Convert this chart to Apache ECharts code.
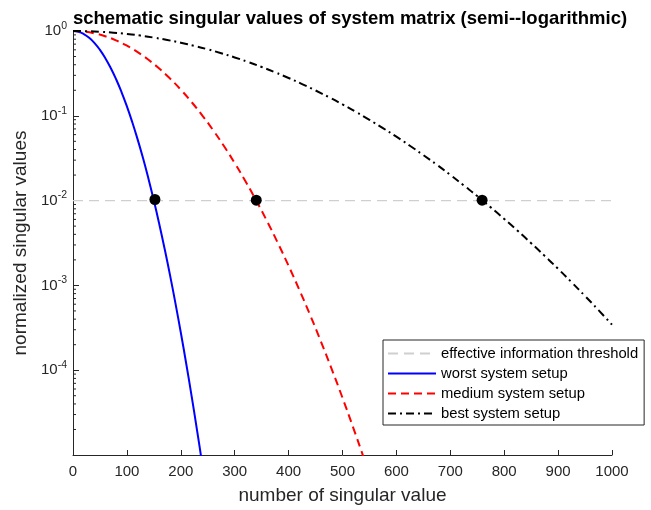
<!DOCTYPE html>
<html>
<head>
<meta charset="utf-8">
<script src="https://cdn.jsdelivr.net/npm/echarts@6/dist/echarts.min.js"></script>
<style>html,body{margin:0;padding:0;background:#fff;}#chart{width:651px;height:510px;}</style>
</head>
<body>
<div id="chart"></div>
<script>
// ---- data ----
const worstX = [0,10,20,30,40,50,60,70,80,90,100,110,120,130,140,150,160,170,180,190,200,210,220,230,240,250];
const worstY = [1,0.9797,0.9214,0.8318,0.7207,0.5994,0.4786,0.3668,0.2698,0.1905,0.1291,0.0840,0.0524,0.0315,0.0181,0.0100,0.00530,0.00270,0.00132,0.000617,0.000278,0.000120,0.0000498,0.0000198,0.0000076,0.0000028];

const mediumX = [0,20,40,60,80,100,120,140,160,180,200,220,240,260,280,300,320,340,360,380,400,420,440,460,480,500,520,540,560];
const mediumY = [1,0.9842,0.9382,0.8663,0.7749,0.6713,0.5634,0.4579,0.3605,0.2750,0.2031,0.1453,0.1007,0.0676,0.0440,0.0277,0.0169,0.00999,0.00572,0.00317,0.00170,0.000885,0.000446,0.000218,0.000103,0.0000472,0.0000209,0.0000090,0.0000037];

const bestX = [0,25,50,75,100,125,150,175,200,225,250,275,300,325,350,375,400,425,450,475,500,525,550,575,600,625,650,675,700,725,750,775,800,825,850,875,900,925,950,975,1000];
const bestY = [1,0.9950,0.9803,0.9561,0.9234,0.8829,0.8358,0.7833,0.7269,0.6679,0.6076,0.5472,0.4879,0.4308,0.3766,0.3259,0.2792,0.2369,0.1990,0.1655,0.1362,0.1111,0.0896,0.0716,0.0567,0.0444,0.0344,0.0265,0.0201,0.0151,0.0113,0.00832,0.00608,0.00440,0.00315,0.00223,0.00157,0.00109,0.000749,0.000511,0.000344];

const thresholdX = [0, 1000];
const thresholdY = [0.01, 0.01];

const crossX = [152, 340, 759];
const crossY = [0.0103, 0.0101, 0.0101];

const minorTickValues = [];
[-5,-4,-3,-2,-1].forEach(d => { for (let k = 2; k <= 9; k++) minorTickValues.push(k * Math.pow(10, d)); });

const seriesNames = ['effective information threshold','worst system setup','medium system setup','best system setup'];
const titleText = 'schematic singular values of system matrix (semi--logarithmic)';
const xName = 'number of singular value';
const yName = 'normalized singular values';

const zip = (xs, ys) => xs.map((x, i) => [x, ys[i]]);
const FONT = 'Liberation Sans, Arial, Helvetica, sans-serif';
const AX = '#262626';

const chart = echarts.init(document.getElementById('chart'), null, {renderer: 'canvas'});
chart.setOption({
  animation: false,
  backgroundColor: '#ffffff',
  textStyle: {fontFamily: FONT},
  title: {
    text: titleText,
    left: 345, top: 4, textAlign: 'center',
    textStyle: {fontFamily: FONT, fontSize: 18.5, fontWeight: 'bold', color: '#000'}
  },
  grid: {left: 73, right: 39, top: 31, bottom: 55, containLabel: false},
  legend: {
    data: seriesNames,
    orient: 'vertical',
    left: 383, top: 340,
    padding: [6, 6, 4, 4],
    itemWidth: 48, itemHeight: 14, itemGap: 5,
    itemStyle: {opacity: 0},
    backgroundColor: '#ffffff',
    borderColor: AX, borderWidth: 1, borderRadius: 0,
    textStyle: {fontFamily: FONT, fontSize: 14.8, color: '#000'}
  },
  xAxis: {
    type: 'value', min: 0, max: 1000, interval: 100,
    name: xName, nameLocation: 'middle', nameGap: 31,
    nameTextStyle: {fontFamily: FONT, fontSize: 19, color: AX},
    axisLine: {lineStyle: {color: AX, width: 1}},
    axisTick: {inside: true, length: 5, lineStyle: {color: AX}},
    axisLabel: {fontFamily: FONT, fontSize: 15, color: AX, margin: 9,
      formatter: v => String(v)},
    splitLine: {show: false}
  },
  yAxis: {
    type: 'log', logBase: 10, min: 0.00001, max: 1, interval: 1,
    name: yName, nameLocation: 'middle', nameGap: 34,
    nameTextStyle: {fontFamily: FONT, fontSize: 19, color: AX},
    axisLine: {show: true, lineStyle: {color: AX, width: 1}},
    axisTick: {show: true, inside: true, length: 6, lineStyle: {color: AX}},
    axisLabel: {
      margin: 6,
      formatter: function (v) {
        const e = Math.round(Math.log10(v));
        if (e <= -5) return '';
        return '{b|10}{e|' + e + '}';
      },
      rich: {
        b: {fontFamily: FONT, fontSize: 15, color: AX},
        e: {fontFamily: FONT, fontSize: 10.5, color: AX, padding: [0, 0, 10, 0]}
      }
    },
    splitLine: {show: false}
  },
  series: [
    {
      name: seriesNames[0], type: 'line', data: zip(thresholdX, thresholdY),
      symbol: 'none', z: 1,
      lineStyle: {color: '#cfcfcf', width: 1.2, type: [10, 6]},
      itemStyle: {color: '#cfcfcf'}
    },
    {
      name: seriesNames[1], type: 'line', data: zip(worstX, worstY),
      symbol: 'none', smooth: true, clip: true, z: 2,
      lineStyle: {color: '#0000ff', width: 2, type: 'solid'},
      itemStyle: {color: '#0000ff'}
    },
    {
      name: seriesNames[2], type: 'line', data: zip(mediumX, mediumY),
      symbol: 'none', smooth: true, clip: true, z: 2,
      lineStyle: {color: '#ff0000', width: 2, type: [8, 5]},
      itemStyle: {color: '#ff0000'}
    },
    {
      name: seriesNames[3], type: 'line', data: zip(bestX, bestY),
      symbol: 'none', smooth: true, clip: true, z: 2,
      lineStyle: {color: '#000000', width: 2, type: [8, 4, 2, 4]},
      itemStyle: {color: '#000000'}
    },
    {
      type: 'scatter', data: zip(crossX, crossY),
      symbol: 'circle', symbolSize: 11, z: 5,
      itemStyle: {color: '#000000', opacity: 1}
    },
    {
      type: 'custom', silent: true, z: 6,
      data: minorTickValues.map(v => [0, v]),
      renderItem: function (params, api) {
        const p = api.coord([0, api.value(1)]);
        return {
          type: 'line',
          shape: {x1: p[0], y1: p[1], x2: p[0] + 3, y2: p[1]},
          style: {stroke: AX, lineWidth: 1}
        };
      }
    }
  ]
});
</script>
</body>
</html>
